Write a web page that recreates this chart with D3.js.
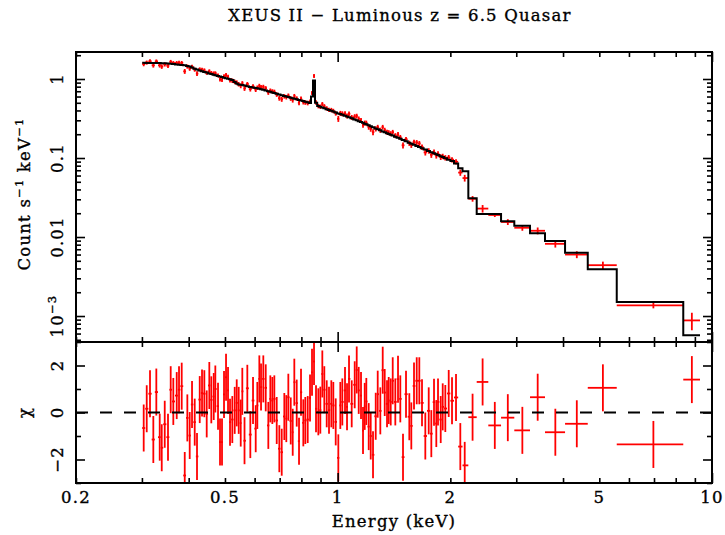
<!DOCTYPE html>
<html lang="en">
  <head>
    <meta charset="UTF-8" />
    <title>XEUS II - Luminous z = 6.5 Quasar</title>
    <script src="https://d3js.org/d3.v7.min.js"></script>
    <style>
      body { margin: 0; background: #fff; }
      svg text {
        font-family: "DejaVu Serif", serif;
        fill: #000;
        stroke: #000;
        stroke-width: 0.35px;
        font-size: 16.5px;
        letter-spacing: 1.2px;
      }
    </style>
  </head>
  <body>
    <svg id="chart" width="725" height="535"></svg>

    <script>
      // Finely grouped channels, 0.3 - 2.2 keV (bin centres, keV)
      const denseEnergy = [
        0.3033, 0.3090, 0.3153, 0.3218, 0.3278, 0.3347, 0.3389, 0.3452, 0.3522, 0.3581,
        0.3639, 0.3716, 0.3769, 0.3832, 0.3904, 0.3967, 0.4025, 0.4083, 0.4151, 0.4210,
        0.4281, 0.4342, 0.4404, 0.4469, 0.4541, 0.4597, 0.4666, 0.4712, 0.4791, 0.4850,
        0.4910, 0.4971, 0.5033, 0.5095, 0.5158, 0.5231, 0.5309, 0.5375, 0.5441, 0.5509,
        0.5563, 0.5639, 0.5737, 0.5844, 0.5942, 0.6041, 0.6101, 0.6177, 0.6242, 0.6330,
        0.6425, 0.6528, 0.6609, 0.6691, 0.6774, 0.6874, 0.6985, 0.7089, 0.7203, 0.7292,
        0.7383, 0.7493, 0.7585, 0.7660, 0.7774, 0.7885, 0.7982, 0.8096, 0.8196, 0.8318,
        0.8437, 0.8541, 0.8647, 0.8754, 0.8879, 0.8989, 0.9100, 0.9212, 0.9349, 0.9482,
        0.9618, 0.9737, 0.9881, 1.0041, 1.0165, 1.0291, 1.0463, 1.0593, 1.0724, 1.0903,
        1.1106, 1.1244, 1.1383, 1.1545, 1.1688, 1.1811, 1.1928, 1.2105, 1.2255, 1.2430,
        1.2638, 1.2794, 1.3001, 1.3194, 1.3357, 1.3548, 1.3690, 1.3860, 1.4031, 1.4257,
        1.4496, 1.4702, 1.4948, 1.5227, 1.5539, 1.5731, 1.5995, 1.6263, 1.6525, 1.6801,
        1.7146, 1.7509, 1.7791, 1.8089, 1.8346, 1.8539, 1.8850, 1.9083, 1.9391, 1.9801,
        2.0207, 2.0710, 2.1265, 2.1848
      ];
      // folded model (count/s/keV)
      const denseModel = [
        1.61, 1.60, 1.60, 1.60, 1.59, 1.59, 1.58, 1.58, 1.57, 1.56,
        1.55, 1.53, 1.52, 1.50, 1.49, 1.46, 1.44, 1.40, 1.35, 1.32,
        1.285, 1.255, 1.23, 1.205, 1.175, 1.157, 1.134, 1.117, 1.091, 1.073,
        1.057, 1.040, 1.024, 1.007, 0.991, 0.971, 0.916, 0.880, 0.854, 0.844,
        0.837, 0.825, 0.810, 0.794, 0.780, 0.769, 0.763, 0.751, 0.741, 0.730,
        0.717, 0.700, 0.688, 0.676, 0.665, 0.651, 0.636, 0.623, 0.611, 0.600,
        0.592, 0.580, 0.571, 0.563, 0.553, 0.544, 0.534, 0.525, 0.516, 0.507,
        0.497, 0.60, 0.96, 0.50, 0.454, 0.444, 0.436, 0.426, 0.415, 0.405,
        0.396, 0.387, 0.378, 0.367, 0.360, 0.352, 0.342, 0.335, 0.328, 0.318,
        0.308, 0.300, 0.293, 0.285, 0.279, 0.272, 0.268, 0.259, 0.253, 0.246,
        0.237, 0.232, 0.224, 0.217, 0.212, 0.206, 0.202, 0.197, 0.193, 0.186,
        0.180, 0.175, 0.169, 0.163, 0.156, 0.152, 0.147, 0.142, 0.138, 0.133,
        0.128, 0.1226, 0.1184, 0.1147, 0.1114, 0.1091, 0.1054, 0.1030, 0.0994, 0.0954,
        0.0916, 0.0852, 0.074, 0.068
      ];
      // residuals (data - model) / error
      const denseChi = [
        -0.66, 0.16, 0.80, -1.15, 0.87, -1.05, -1.50, -0.50, -1.05, 0.97,
        0.47, 0.72, 0.97, 1.12, -2.68, -0.23, -0.98, 0.34, -0.41, -1.87,
        0.55, 0.83, 0.80, -0.06, 1.15, 0.54, 0.68, 1.00, 0.27, -1.26,
        -1.26, 0.77, 1.50, 0.94, -0.41, -0.30, 0.09, 0.41, 0.09, -0.45,
        0.90, -1.20, 1.03, -0.94, 0.51, -0.69, 0.30, 1.43, 1.08, 1.43,
        1.05, -0.55, 0.58, 0.51, 0.58, -0.34, -1.54, -1.69, -0.17, -0.26,
        0.65, -0.36, -0.84, 1.29, 0.40, -1.22, 0.86, -0.44, -0.34, -0.30,
        0.62, 1.71, 2.17, 0.16, 0.03, 0.10, 1.64, 0.97, 0.37, 0.10,
        0.37, 0.30, -0.40, -1.93, 0.30, 0.45, 0.94, 0.24, 1.43, 0.37,
        1.18, 1.81, 0.94, 0.72, -0.77, 0.26, 0.47, -0.60, -1.00, -1.80,
        -0.16, 0.78, 0.07, 1.80, 0.85, 0.37, 0.51, 0.45, 1.35, 0.45,
        1.42, 0.58, -1.90, 0.78, -0.18, -0.57, 1.13, 1.35, 1.35, 0.41,
        -1.00, 0.07, -0.90, 0.44, -0.47, 0.45, -0.30, 0.24, 0.17, 0.81,
        0.50, 0.64, -1.45, -2.25
      ];
      // fractional 1-sigma error of the fine channels, by energy band
      const errBandUpTo = [0.5, 1.0, 1.6, 2.3];
      const errBandFrac = [0.06, 0.065, 0.075, 0.08];

      // Wide channels above the 2.2 keV edge
      const wideLo = [2.234, 2.352, 2.526, 2.732, 2.964, 3.265, 3.580, 4.050, 4.657, 5.566, 8.380];
      const wideHi = [2.352, 2.526, 2.732, 2.964, 3.265, 3.580, 4.050, 4.657, 5.566, 8.380, 9.290];
      const wideModel = [0.0310, 0.0196, 0.0196, 0.0158, 0.0139, 0.0112, 0.0089, 0.0063, 0.0039, 0.00150, 0.00057];
      const wideRate = [0.0305, 0.0229, 0.0190, 0.0155, 0.0131, 0.0120, 0.0082, 0.0060, 0.0044, 0.00136, 0.00088];
      const wideErr = [0.0025, 0.0025, 0.0011, 0.0013, 0.0011, 0.0012, 0.00085, 0.0006, 0.00048, 0.00011, 0.00022];
      const wideChi = [-0.20, 1.30, -0.55, -0.22, -0.76, 0.65, -0.84, -0.48, 1.05, -1.36, 1.40];

      // Ticks
      const xMajorTicks = [1, 10];
      const xMinorTicks = [0.2, 0.3, 0.4, 0.5, 0.6, 0.7, 0.8, 0.9, 2, 3, 4, 5, 6, 7, 8, 9];
      const xTickLabels = [0.2, 0.5, 1, 2, 5, 10];
      const rateMajorTicks = [0.001, 0.01, 0.1, 1];
      const rateMinorTicks = [
        0.0005, 0.0006, 0.0007, 0.0008, 0.0009,
        0.002, 0.003, 0.004, 0.005, 0.006, 0.007, 0.008, 0.009,
        0.02, 0.03, 0.04, 0.05, 0.06, 0.07, 0.08, 0.09,
        0.2, 0.3, 0.4, 0.5, 0.6, 0.7, 0.8, 0.9, 2
      ];
      const rateLabelValues = [1, 0.1, 0.01, 0.001];
      const rateLabelBase = ["1", "0.1", "0.01", "10"];
      const rateLabelExp = ["", "", "", "\u22123"];
      const chiMajorTicks = [-2, 0, 2];
      const chiMinorTicks = [-3, -1, 1, 3];
      const chiTickLabels = ["\u22122", "0", "2"];

      const svg = d3.select("#chart");
      const pLeft = 76, pRight = 712, pTop = 52, pMid = 342, pBottom = 483;

      const x = d3.scaleLog().domain([0.2, 10]).range([pLeft, pRight]);
      const yRate = d3.scaleLog().domain([4.69e-4, 2.197]).range([pMid, pTop]);
      const yChi = d3.scaleLinear().domain([-3, 3]).range([pBottom, pMid]);

      // Collect channels
      const bins = [];
      denseEnergy.forEach((e, i) => {
        const n = denseEnergy.length;
        const lo = i === 0 ? e / Math.sqrt(denseEnergy[1] / e) : Math.sqrt(denseEnergy[i - 1] * e);
        const hi = i === n - 1 ? wideLo[0] : Math.sqrt(e * denseEnergy[i + 1]);
        const frac = errBandFrac[errBandUpTo.findIndex((t) => e < t)];
        const err = denseModel[i] * frac;
        bins.push({
          lo, hi, e,
          model: denseModel[i],
          rate: denseModel[i] + denseChi[i] * err,
          err,
          chi: denseChi[i],
        });
      });
      wideLo.forEach((lo, i) => {
        bins.push({
          lo, hi: wideHi[i], e: (lo + wideHi[i]) / 2,
          model: wideModel[i], rate: wideRate[i], err: wideErr[i], chi: wideChi[i],
        });
      });

      const defs = svg.append("defs");
      defs.append("clipPath").attr("id", "clipTop")
        .append("rect").attr("x", pLeft).attr("y", pTop)
        .attr("width", pRight - pLeft).attr("height", pMid - pTop);
      defs.append("clipPath").attr("id", "clipBot")
        .append("rect").attr("x", pLeft).attr("y", pMid)
        .attr("width", pRight - pLeft).attr("height", pBottom - pMid);

      // Top panel: data crosses then folded model
      const topG = svg.append("g").attr("clip-path", "url(#clipTop)");
      const red = "#ff0000";

      topG.selectAll(".hbar").data(bins).join("line")
        .attr("x1", (d) => x(d.lo)).attr("x2", (d) => x(d.hi))
        .attr("y1", (d) => yRate(d.rate)).attr("y2", (d) => yRate(d.rate))
        .attr("stroke", red).attr("stroke-width", 1.8);
      topG.selectAll(".vbar").data(bins).join("line")
        .attr("x1", (d) => x(d.e)).attr("x2", (d) => x(d.e))
        .attr("y1", (d) => yRate(d.rate - d.err)).attr("y2", (d) => yRate(d.rate + d.err))
        .attr("stroke", red).attr("stroke-width", 1.8);

      const stepPts = [];
      bins.forEach((b) => { stepPts.push([b.lo, b.model], [b.hi, b.model]); });
      topG.append("path")
        .datum(stepPts)
        .attr("fill", "none").attr("stroke", "#000").attr("stroke-width", 2)
        .attr("d", d3.line().x((d) => x(d[0])).y((d) => yRate(d[1])));

      // Bottom panel: residuals
      const botG = svg.append("g").attr("clip-path", "url(#clipBot)");
      botG.selectAll(".rh").data(bins).join("line")
        .attr("x1", (d) => x(d.lo)).attr("x2", (d) => x(d.hi))
        .attr("y1", (d) => yChi(d.chi)).attr("y2", (d) => yChi(d.chi))
        .attr("stroke", red).attr("stroke-width", 1.8);
      botG.selectAll(".rv").data(bins).join("line")
        .attr("x1", (d) => x(d.e)).attr("x2", (d) => x(d.e))
        .attr("y1", (d) => yChi(d.chi - 1)).attr("y2", (d) => yChi(d.chi + 1))
        .attr("stroke", red).attr("stroke-width", 1.8);
      botG.append("line")
        .attr("x1", pLeft).attr("x2", pRight)
        .attr("y1", yChi(0)).attr("y2", yChi(0))
        .attr("stroke", "#000").attr("stroke-width", 2)
        .attr("stroke-dasharray", "12,12");

      // Frames
      [[pTop, pMid], [pMid, pBottom]].forEach(([y0, y1]) => {
        svg.append("rect")
          .attr("x", pLeft).attr("y", y0)
          .attr("width", pRight - pLeft).attr("height", y1 - y0)
          .attr("fill", "none").attr("stroke", "#000").attr("stroke-width", 2);
      });

      // Inward ticks on every side
      function ticks(axisFn, scale, values, size, tx, ty) {
        svg.append("g")
          .attr("transform", `translate(${tx},${ty})`)
          .call(axisFn(scale).tickValues(values).tickSize(-size).tickFormat(""))
          .call((g) => g.select(".domain").remove())
          .call((g) => g.selectAll("line").attr("stroke", "#000").attr("stroke-width", 1.6));
      }
      [pTop, pMid].forEach((yy) => {
        ticks(d3.axisTop, x, xMinorTicks, 5, 0, yy);
        ticks(d3.axisTop, x, xMajorTicks, 10, 0, yy);
      });
      [pMid, pBottom].forEach((yy) => {
        ticks(d3.axisBottom, x, xMinorTicks, 5, 0, yy);
        ticks(d3.axisBottom, x, xMajorTicks, 10, 0, yy);
      });
      ticks(d3.axisLeft, yRate, rateMinorTicks, 5, pLeft, 0);
      ticks(d3.axisLeft, yRate, rateMajorTicks, 9, pLeft, 0);
      ticks(d3.axisRight, yRate, rateMinorTicks, 5, pRight, 0);
      ticks(d3.axisRight, yRate, rateMajorTicks, 9, pRight, 0);
      ticks(d3.axisLeft, yChi, chiMinorTicks, 5, pLeft, 0);
      ticks(d3.axisLeft, yChi, chiMajorTicks, 9, pLeft, 0);
      ticks(d3.axisRight, yChi, chiMinorTicks, 5, pRight, 0);
      ticks(d3.axisRight, yChi, chiMajorTicks, 9, pRight, 0);

      // Tick labels
      svg.append("g").selectAll("text").data(xTickLabels).join("text")
        .attr("x", (d) => x(d)).attr("y", 503)
        .attr("text-anchor", "middle")
        .text((d) => d);

      const rateLab = svg.append("g").selectAll("text").data(rateLabelValues).join("text")
        .attr("text-anchor", "middle")
        .attr("transform", (d) => `translate(63,${yRate(d)}) rotate(-90)`);
      rateLab.append("tspan").text((d, i) => rateLabelBase[i]);
      rateLab.append("tspan")
        .attr("font-size", "11.5px").attr("dy", "-0.6em")
        .text((d, i) => rateLabelExp[i]);

      svg.append("g").selectAll("text").data(chiMajorTicks).join("text")
        .attr("text-anchor", "middle")
        .attr("transform", (d) => `translate(63,${yChi(d)}) rotate(-90)`)
        .text((d, i) => chiTickLabels[i]);

      // Titles
      svg.append("text")
        .attr("x", 400).attr("y", 21)
        .attr("text-anchor", "middle")
        .text("XEUS II \u2212 Luminous z = 6.5 Quasar");

      svg.append("text")
        .attr("x", (pLeft + pRight) / 2).attr("y", 527)
        .attr("text-anchor", "middle")
        .text("Energy (keV)");

      const yTitle = svg.append("text")
        .attr("text-anchor", "middle")
        .attr("transform", `translate(30,${(pTop + pMid) / 2 - 3}) rotate(-90)`);
      yTitle.append("tspan").text("Count s");
      yTitle.append("tspan").attr("font-size", "11.5px").attr("dy", "-0.6em").text("\u22121");
      yTitle.append("tspan").attr("dy", "0.42em").text(" keV");
      yTitle.append("tspan").attr("font-size", "11.5px").attr("dy", "-0.6em").text("\u22121");

      svg.append("text")
        .attr("text-anchor", "middle")
        .attr("transform", `translate(30,${yChi(0)}) rotate(-90)`)
        .text("\u03c7");
    </script>
  </body>
</html>
